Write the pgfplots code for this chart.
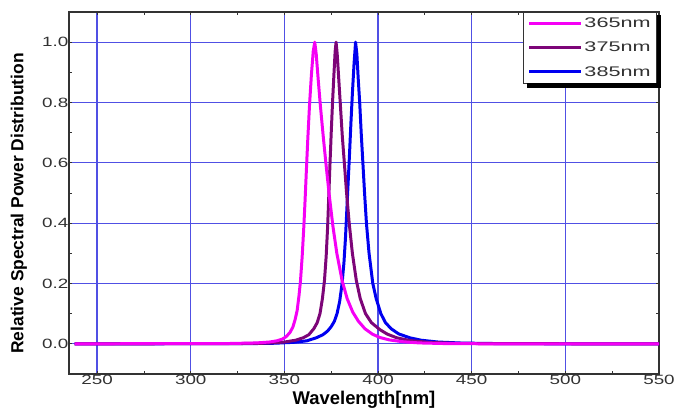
\documentclass[border=0pt]{standalone}
\usepackage{fontspec}
\setmainfont{Liberation Sans}
\usepackage{graphicx}
\usepackage{pgfplots}
\pgfplotsset{compat=1.18}
\definecolor{gridblue}{RGB}{80,80,228}
\definecolor{cmag}{RGB}{245,0,245}
\definecolor{cpur}{RGB}{125,5,120}
\definecolor{cblu}{RGB}{0,0,240}
\definecolor{tickgray}{RGB}{50,50,50}
\begin{document}
\begin{tikzpicture}
\begin{axis}[
  name=ax,
  scale only axis, width=590bp, height=362bp,
  xmin=235, xmax=550, ymin=-0.1, ymax=1.1,
  xtick={250,300,350,400,450,500,550},
  ytick={0,0.2,0.4,0.6,0.8,1.0},
  minor x tick num=1, minor y tick num=1,
  grid=major,
  major grid style={gridblue, line width=1.2pt},
  axis line style={black!80, line width=1.2pt},
  tick align=inside, major tick length=3bp, minor tick length=3bp,
  every tick/.style={black!80, line width=0.8pt},
  ticklabel style={font=\fontsize{13.5}{15}\selectfont, text=tickgray},
  xticklabel={\scalebox{1.4}[1]{\pgfmathprintnumber[assume math mode=true]{\tick}}},
  yticklabel={\scalebox{1.4}[1]{\pgfmathprintnumber[fixed,fixed zerofill,precision=1,assume math mode=true]{\tick}}},
  xticklabel style={inner sep=1bp},
  yticklabel style={inner sep=0.5bp},
  xlabel={Wavelength[nm]},
  ylabel={Relative Spectral Power Distribution},
  xlabel style={font=\fontsize{18.5}{20}\selectfont\bfseries, at={(axis description cs:0.5,-0.072)}, anchor=center},
  ylabel style={font=\fontsize{17.5}{20}\selectfont\bfseries, at={(axis description cs:-0.085,0.471)}, anchor=center},
  legend style={name=leg, at={(rel axis cs:0.9966,1)}, anchor=north east, draw=black!80, line width=0.8pt, fill=white,
    font=\fontsize{14}{16}\selectfont, text=tickgray, inner xsep=4bp, inner ysep=4.5bp, row sep=11bp,
    nodes={inner xsep=2bp, inner ysep=1bp}},
  legend cell align=left,
  legend image code/.code={\draw[#1, line width=3pt] (0bp,0bp) -- (52bp,0bp);},
  reverse legend,
]
\addplot[cblu, line width=3pt, line join=round] coordinates {
(238,0) (330,0.0005) (345,0.002) (355,0.005) (362,0.01) (367,0.02) (370.5,0.03) (373,0.042)
(375,0.057) (376.7,0.075) (378.1,0.1) (379.5,0.14) (380.8,0.2) (381.8,0.27) (382.6,0.35)
(383.3,0.44) (384.0,0.53) (384.7,0.62) (385.5,0.73) (386.3,0.83) (387.2,0.93) (388.0,1.0)
(388.7,0.96) (389.4,0.88) (390.2,0.8) (391.0,0.7) (391.9,0.6) (392.8,0.5) (393.8,0.4)
(395.2,0.3) (397.2,0.2) (399,0.15) (401.5,0.1) (404,0.07) (407,0.05) (411,0.033) (417,0.02)
(423,0.012) (432,0.006) (445,0.0025) (465,0.0008) (500,0) (550,0)
};
\addlegendentry{\scalebox{1.55}[1]{385nm}}
\addplot[cpur, line width=3pt, line join=round] coordinates {
(238,0) (320,0.0005) (340,0.002) (350,0.006) (356,0.012) (360,0.02) (363,0.03) (365.7,0.05)
(367.5,0.07) (369.0,0.1) (370.3,0.15) (371.4,0.21) (372.3,0.29) (373.1,0.39) (373.7,0.49)
(374.3,0.59) (375.0,0.7) (375.7,0.8) (376.5,0.9) (377.1,0.97) (377.6,1.0) (378.2,0.96)
(379.0,0.88) (379.9,0.79) (380.9,0.69) (382.0,0.6) (383.2,0.5) (384.6,0.4) (386.3,0.3)
(388.4,0.21) (390.5,0.15) (393.3,0.10) (396.5,0.07) (401,0.047) (405,0.032) (410,0.02)
(417,0.011) (427,0.005) (440,0.002) (460,0.0005) (550,0)
};
\addlegendentry{\scalebox{1.55}[1]{375nm}}
\addplot[cmag, line width=3pt, line join=round] coordinates {
(238,0) (320,0.001) (335,0.003) (342,0.006) (346,0.01) (349,0.016) (351,0.024) (353,0.038)
(354.5,0.055) (355.7,0.08) (356.8,0.11) (357.8,0.16) (358.6,0.21) (359.5,0.29) (360.3,0.38)
(361.0,0.47) (361.7,0.57) (362.5,0.68) (363.4,0.79) (364.4,0.89) (365.4,0.97) (366.2,1.0)
(367.0,0.96) (368.0,0.88) (369.2,0.79) (370.7,0.69) (372.3,0.59) (374.0,0.49) (375.9,0.39)
(378.0,0.30) (380.8,0.21) (383.5,0.15) (386.5,0.105) (389.5,0.075) (393.0,0.05) (397,0.032)
(401,0.021) (406,0.013) (413,0.007) (422,0.003) (435,0.001) (460,0) (550,0)
};
\addlegendentry{\scalebox{1.55}[1]{365nm}}
\end{axis}
\fill[black] ([shift={(0bp,-3bp)}]leg.north east) rectangle ([shift={(4bp,-5bp)}]leg.south east);
\fill[black] ([shift={(4bp,0bp)}]leg.south west) rectangle ([shift={(4bp,-5bp)}]leg.south east);
\pgfresetboundingbox
\path[use as bounding box] (ax.south west) ++(-69bp,-40bp) rectangle ++(674bp,414bp);
\end{tikzpicture}
\end{document}
